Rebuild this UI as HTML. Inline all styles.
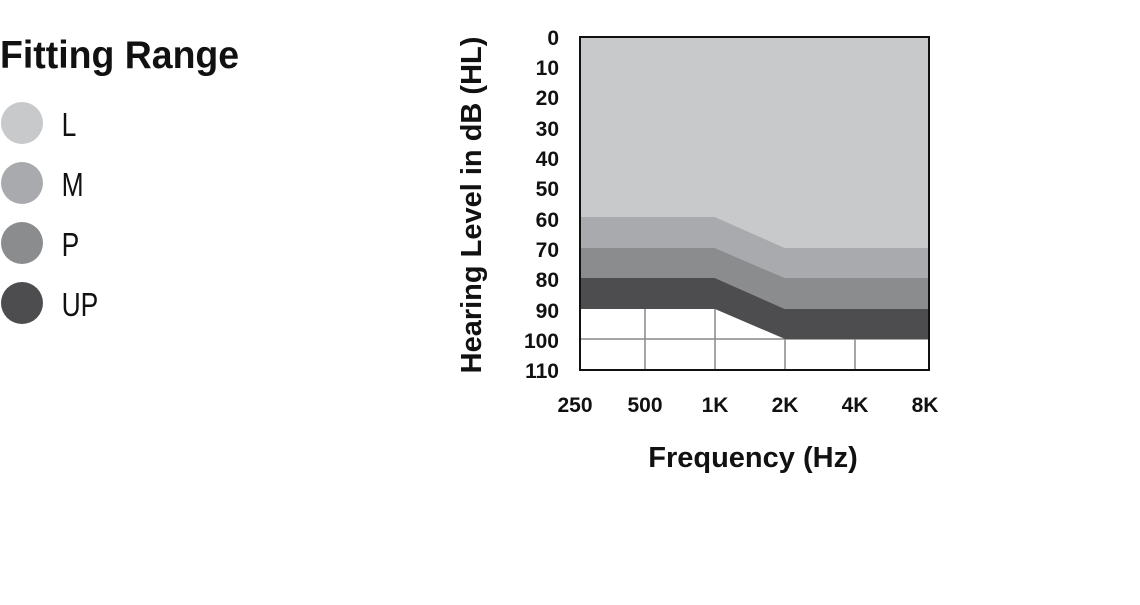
<!DOCTYPE html>
<html><head><style>
body{margin:0;width:1140px;height:600px;background:#fff;overflow:hidden;font-family:"Liberation Sans",sans-serif}
</style></head><body>
<svg width="1140" height="600" xmlns="http://www.w3.org/2000/svg" font-family="Liberation Sans, sans-serif">
<text x="0" y="68" font-size="39" font-weight="bold" transform="scale(0.96,1)" fill="#111">Fitting Range</text>
<circle cx="22" cy="123" r="21" fill="#c8c9cb"/>
<circle cx="22" cy="183" r="21" fill="#a9aaad"/>
<circle cx="22" cy="243" r="21" fill="#8b8c8e"/>
<circle cx="22" cy="303" r="21" fill="#4d4d4f"/>
<g font-size="33" fill="#111" transform="scale(0.8,1)">
<text x="77" y="136">L</text>
<text x="77" y="196">M</text>
<text x="77" y="256">P</text>
<text x="77" y="316">UP</text>
</g>
<rect x="580" y="37" width="349" height="333" fill="#fff"/>
<g stroke="#888" stroke-width="1.5">
<line x1="580" y1="339" x2="929" y2="339"/>
<line x1="645" y1="309" x2="645" y2="370"/>
<line x1="715" y1="309" x2="715" y2="370"/>
<line x1="785" y1="339" x2="785" y2="370"/>
<line x1="855" y1="339" x2="855" y2="370"/>
</g>
<polygon points="580,37 929,37 929,248 785,248 715,217 580,217" fill="#c8c9cb"/>
<polygon points="580,217 715,217 785,248 929,248 929,278 785,278 715,248 580,248" fill="#a9aaad"/>
<polygon points="580,248 715,248 785,278 929,278 929,309 785,309 715,278 580,278" fill="#8b8c8e"/>
<polygon points="580,278 715,278 785,309 929,309 929,339 785,339 715,309 580,309" fill="#4d4d4f"/>
<rect x="580" y="37" width="349" height="333" fill="none" stroke="#111" stroke-width="2"/>
<g font-size="21" font-weight="bold" fill="#111" text-anchor="end">
<text x="559" y="45">0</text><text x="559" y="75">10</text><text x="559" y="105">20</text>
<text x="559" y="136">30</text><text x="559" y="166">40</text><text x="559" y="196">50</text>
<text x="559" y="227">60</text><text x="559" y="257">70</text><text x="559" y="287">80</text>
<text x="559" y="318">90</text><text x="559" y="348">100</text><text x="559" y="378">110</text>
</g>
<g font-size="21" font-weight="bold" fill="#111" text-anchor="middle">
<text x="575" y="412">250</text><text x="645" y="412">500</text><text x="715" y="412">1K</text>
<text x="785" y="412">2K</text><text x="855" y="412">4K</text><text x="925" y="412">8K</text>
</g>
<text x="753" y="467" font-size="29" font-weight="bold" text-anchor="middle" fill="#111">Frequency (Hz)</text>
<text transform="translate(481,205) rotate(-90)" font-size="29" font-weight="bold" text-anchor="middle" fill="#111">Hearing Level in dB (HL)</text>
</svg>
</body></html>
